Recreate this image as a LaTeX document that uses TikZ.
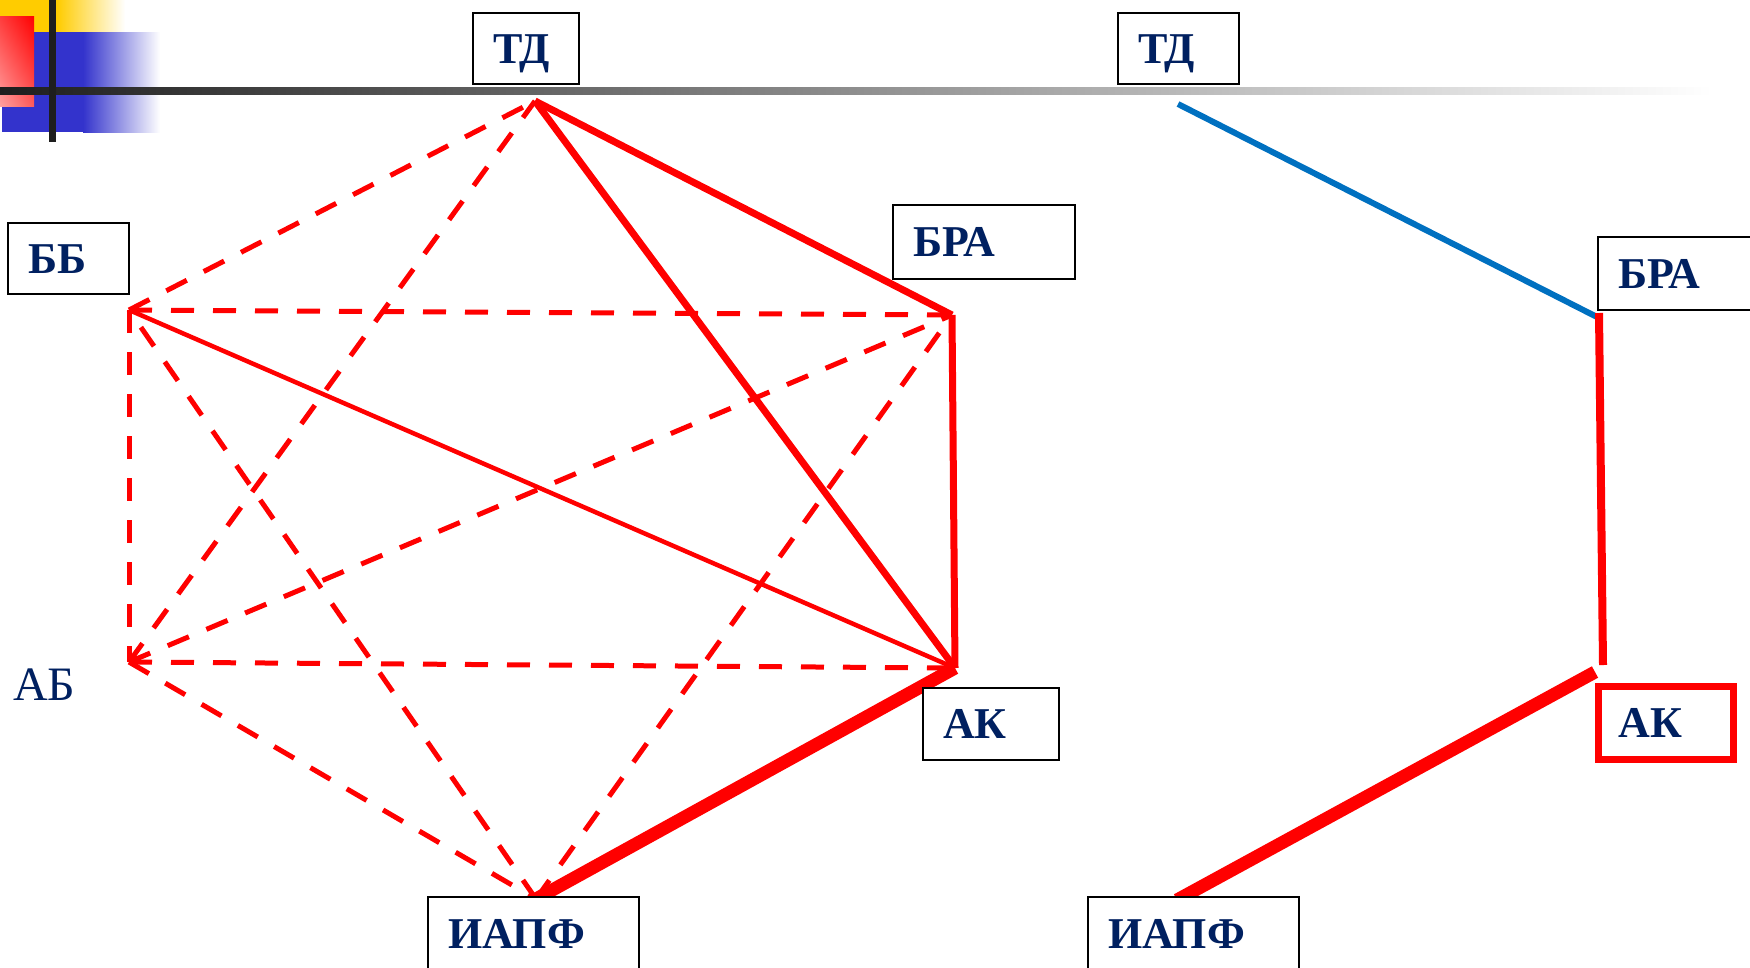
\documentclass[tikz,border=0pt]{standalone}
\usepackage{fontspec}
\usetikzlibrary{shadings}
\setmainfont{Liberation Serif}
\definecolor{navy}{RGB}{0,32,96}
\definecolor{decoyellow}{RGB}{255,204,0}
\definecolor{decoblue}{RGB}{51,51,204}
\definecolor{bardark}{RGB}{30,30,30}
\definecolor{pptblue}{RGB}{0,112,192}
\definecolor{pink1}{RGB}{255,160,160}
\definecolor{pink2}{RGB}{255,90,90}
\definecolor{pink3}{RGB}{255,60,60}
\tikzset{
  lbox/.style={draw=black, line width=2pt, fill=white, anchor=north west, outer sep=0pt,
    inner xsep=20pt, inner ysep=21pt, text height=29pt, text depth=0pt, align=left,
    font=\fontsize{44pt}{48pt}\selectfont\bfseries, text=navy},
  dashedge/.style={red, line width=5pt, dash pattern=on 23pt off 19pt},
  solidedge/.style={red, line width=7pt},
  thinedge/.style={red, line width=4.5pt},
  heavyedge/.style={red, line width=13pt},
}
\begin{document}
\begin{tikzpicture}[x=1pt,y=-1pt]
\useasboundingbox (0,0) rectangle (1750,967);
% decoration
\fill[decoyellow] (0,0) rectangle (57,32);
\shade[left color=decoyellow, right color=white] (57,0) rectangle (125,32);
\fill[decoblue] (2,32) rectangle (83,132);
\shade[left color=decoblue, right color=white] (83,32) rectangle (160,132);
\shade[upper left=pink3, upper right=red, lower left=pink1, lower right=pink2] (0,16) rectangle (34,106);
\shade[left color=bardark, right color=white] (0,87) rectangle (1712,94);
\fill[bardark] (49,0) rectangle (56,142);

% vertices
\coordinate (vTD) at (535,101);
\coordinate (vBB) at (129,310);
\coordinate (vBRA) at (952,315);
\coordinate (vAK) at (955,668);
\coordinate (vAB) at (129,662);
\coordinate (vIA) at (536,899);
\coordinate (rTD) at (1178,104);
\coordinate (rBRA) at (1597,317);
\coordinate (rBRAb) at (1599,313);
\coordinate (rAKt) at (1603,665);
\coordinate (rAK) at (1595,672);
\coordinate (rIA) at (1177,900);

% dashed edges
\draw[dashedge] (vBB) -- (vTD);
\draw[dashedge] (vAB) -- (vTD);
\draw[dashedge] (vBB) -- (vBRA);
\draw[dashedge] (vBB) -- (vAB);
\draw[dashedge] (vIA) -- (vBB);
\draw[dashedge] (vAB) -- (vBRA);
\draw[dashedge] (vIA) -- (vBRA);
\draw[dashedge] (vAB) -- (vAK);
\draw[dashedge] (vAB) -- (vIA);
% solid edges
\draw[thinedge] (vBB) -- (vAK);
\draw[solidedge] (vTD) -- (vBRA);
\draw[solidedge] (vTD) -- (vAK);
\draw[solidedge] (vBRA) -- (vAK);
\draw[heavyedge] (vAK) -- (vIA);
% right part
\draw[pptblue, line width=6pt] (rTD) -- (rBRA);
\draw[red, line width=8pt] (rBRAb) -- (rAKt);
\draw[heavyedge] (rAK) -- (rIA);

% labels
\node[lbox, text width=66pt] (TDL) at (473,13) {ТД};
\node[lbox, text width=81pt] (TDR) at (1118,13) {ТД};
\node[lbox, text width=81pt] (BB) at (8,223) {ББ};
\node[lbox, text width=142pt, inner ysep=22.5pt] (BRAL) at (893,205) {БРА};
\node[lbox, text width=160pt, inner ysep=22pt] (BRAR) at (1598,237) {БРА};
\node[lbox, text width=96pt, inner ysep=21.5pt] (AKL) at (923,688) {АК};
\node[lbox, draw=red, line width=7pt, text width=95pt, inner ysep=22pt] (AKR) at (1598.5,686.5) {АК};
\node[lbox, text width=171pt, inner ysep=22pt] (IAL) at (428,897) {ИАПФ};
\node[lbox, text width=171pt, inner ysep=22pt] (IAR) at (1088,897) {ИАПФ};
\node[anchor=base west, inner sep=0pt, text=navy, font=\fontsize{48pt}{52pt}\selectfont] (AB) at (13,700) {АБ};
\end{tikzpicture}
\end{document}
